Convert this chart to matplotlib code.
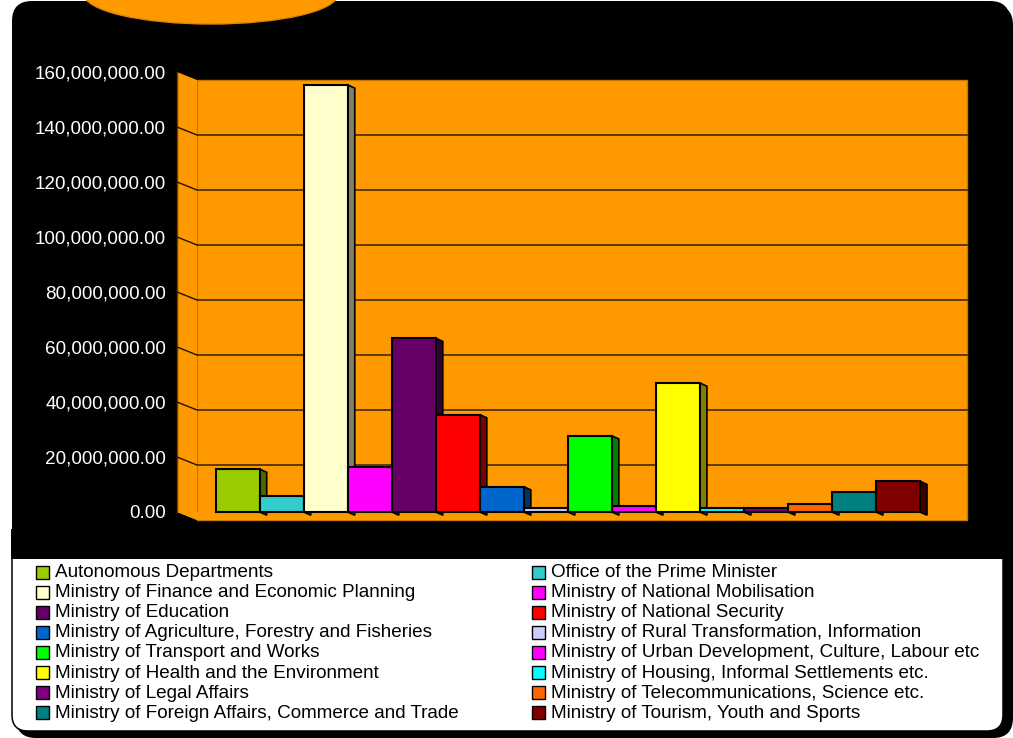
import matplotlib
matplotlib.use('Agg')
import matplotlib.pyplot as plt
from matplotlib.patches import Polygon, Rectangle, FancyBboxPatch, Ellipse
from matplotlib.transforms import IdentityTransform
from matplotlib.ticker import FuncFormatter
import matplotlib.colors as mcolors

# ---------------- data ----------------
categories = [
    "Autonomous Departments",
    "Office of the Prime Minister",
    "Ministry of Finance and Economic Planning",
    "Ministry of National Mobilisation",
    "Ministry of Education",
    "Ministry of National Security",
    "Ministry of Agriculture, Forestry and Fisheries",
    "Ministry of Rural Transformation, Information",
    "Ministry of Transport and Works",
    "Ministry of Urban Development, Culture, Labour etc",
    "Ministry of Health and the Environment",
    "Ministry of Housing, Informal Settlements etc.",
    "Ministry of Legal Affairs",
    "Ministry of Telecommunications, Science etc.",
    "Ministry of Foreign Affairs, Commerce and Trade",
    "Ministry of Tourism, Youth and Sports",
]
values = [15.6e6, 5.9e6, 155.3e6, 16.4e6, 63.2e6, 35.4e6, 9.2e6, 1.6e6,
          27.7e6, 2.2e6, 46.9e6, 1.5e6, 1.3e6, 2.9e6, 7.3e6, 11.2e6]
bar_colors = ["#99CC00", "#33CCCC", "#FFFFCC", "#FF00FF", "#660066", "#FF0000",
              "#0066CC", "#CCCCFF", "#00FF00", "#FF00FF", "#FFFF00", "#00FFFF",
              "#800080", "#FF6600", "#008080", "#800000"]
tick_values = [0, 20e6, 40e6, 60e6, 80e6, 100e6, 120e6, 140e6, 160e6]

# ---------------- figure ----------------
W, H, DPI = 1013, 738, 100
fig = plt.figure(figsize=(W / DPI, H / DPI), dpi=DPI, facecolor="white")
plt.rcParams['font.family'] = ['Liberation Sans', 'DejaVu Sans']
ID = IdentityTransform()
renderer = fig.canvas.get_renderer()


def fit_size(text, target_px):
    t = fig.text(0, 0, text, fontsize=10)
    w = t.get_window_extent(renderer).width
    t.remove()
    return 10 * target_px / w


def add_bg(p, z):
    p.set_transform(ID)
    p.set_zorder(z)
    fig.add_artist(p)


def rrect(xl, yt, xr, yb, r, z, **kw):
    # pixel box given with y measured from the top of the image
    add_bg(FancyBboxPatch((xl + r, H - yb + r), xr - xl - 2 * r, yb - yt - 2 * r,
                          boxstyle=f"round,pad={r}", **kw), z)


# shadow, black chart region, white legend region
rrect(16, 5, 1013, 738, 20, -20, fc="black", ec="none")
rrect(12, 1, 1010, 620, 20, -19, fc="black", ec="none")
rrect(12, 540, 1003, 731, 16, -18, fc="white", ec="black", lw=1.1)
add_bg(Rectangle((11, H - 559), 1000, 30, fc="black", ec="none"), -17)
# orange ellipse at top
add_bg(Ellipse((211, H + 6), 254, 60, fc="#FF9900", ec="#E08800", lw=1), -16)

# ---------------- axes (front plane) ----------------
px_per_unit = (920 - 215.7) / 16
left_px, right_px, top_px, bot_px = 177, 947, 72, 512
ax = fig.add_axes([left_px / W, (H - bot_px) / H,
                   (right_px - left_px) / W, (bot_px - top_px) / H])
ax.patch.set_alpha(0)
for s in ax.spines.values():
    s.set_visible(False)
x0 = -(215.7 - left_px) / px_per_unit
x1 = x0 + (right_px - left_px) / px_per_unit
ymax = tick_values[-1]
ax.set_xlim(x0, x1)
ax.set_ylim(0, ymax)
y_per_px = ymax / (bot_px - top_px)

# depth offsets (data units)
wdx, wdy = 20 / px_per_unit, -8 * y_per_px
sdx, sdy = 7 / px_per_unit, -3.2 * y_per_px

orange = "#FF9900"
# back wall
ax.add_patch(Rectangle((x0 + wdx, wdy), x1 - x0, ymax, fc=orange, ec="#C77700",
                       lw=1.0, zorder=1, clip_on=False))
# left wall
ax.add_patch(Polygon([(x0, 0), (x0, ymax), (x0 + wdx, ymax + wdy), (x0 + wdx, wdy)],
                     closed=True, fc=orange, ec="none", zorder=1.1, clip_on=False))
ax.plot([x0, x0], [0, ymax], color="#6b3d00", lw=1.0, zorder=1.2, clip_on=False)
# floor
ax.add_patch(Polygon([(x0, 0), (x1, 0), (x1 + wdx, wdy), (x0 + wdx, wdy)],
                     closed=True, fc=orange, ec="none", zorder=1.1, clip_on=False))
# gridlines
for t in tick_values[1:-1]:
    ax.plot([x0, x0 + wdx, x1 + wdx], [t, t + wdy, t + wdy], color="#1e1200",
            lw=1.0, zorder=1.5, clip_on=False)

# bars with 3D side faces
for i, (v, c) in enumerate(zip(values, bar_colors)):
    rgb = mcolors.to_rgb(c)
    dark = tuple(ch * 0.5 for ch in rgb)
    r = i + 1
    ax.add_patch(Polygon([(r, 0), (r, v), (r + sdx, v + sdy), (r + sdx, sdy)],
                         closed=True, fc=dark, ec="black", lw=1.2,
                         zorder=2 + i * 0.01, clip_on=False))
    ax.bar(i, v, width=1, align="edge", color=c, edgecolor="black",
           linewidth=1.5, zorder=2.005 + i * 0.01, clip_on=False)

# ticks
tick_fs = fit_size("160,000,000.00", 131)
ax.set_yticks(tick_values)
ax.yaxis.set_major_formatter(FuncFormatter(lambda v, p: f"{v:,.2f}"))
ax.tick_params(axis="y", length=0, labelcolor="white", labelsize=tick_fs,
               pad=(left_px - 166) * 72 / DPI)
ax.set_xticks([i + 1 + 0.13 for i in range(len(values))])
ax.set_xticklabels([])
ax.tick_params(axis="x", length=2.5, width=1.5, color="black", direction="out")

# ---------------- legend (manual, row-wise in 2 columns) ----------------
leg_fs = (fit_size("Ministry of Foreign Affairs, Commerce and Trade", 410) +
          fit_size("Ministry of Urban Development, Culture, Labour etc", 429)) / 2
col_x = [36, 532]
row_y0, row_dy = 572, 20.1
for i, (name, c) in enumerate(zip(categories, bar_colors)):
    row, col = divmod(i, 2)
    xm = col_x[col]
    yc = row_y0 + row * row_dy
    p = Rectangle((xm, H - yc - 6.5), 13, 13, fc=c, ec="black", lw=1.0)
    p.set_transform(ID)
    fig.add_artist(p)
    fig.text((xm + 19) / W, (H - yc - 0.5) / H, name, fontsize=leg_fs,
             color="black", va="center", ha="left")

fig.savefig("out.png", dpi=DPI, facecolor="white")
